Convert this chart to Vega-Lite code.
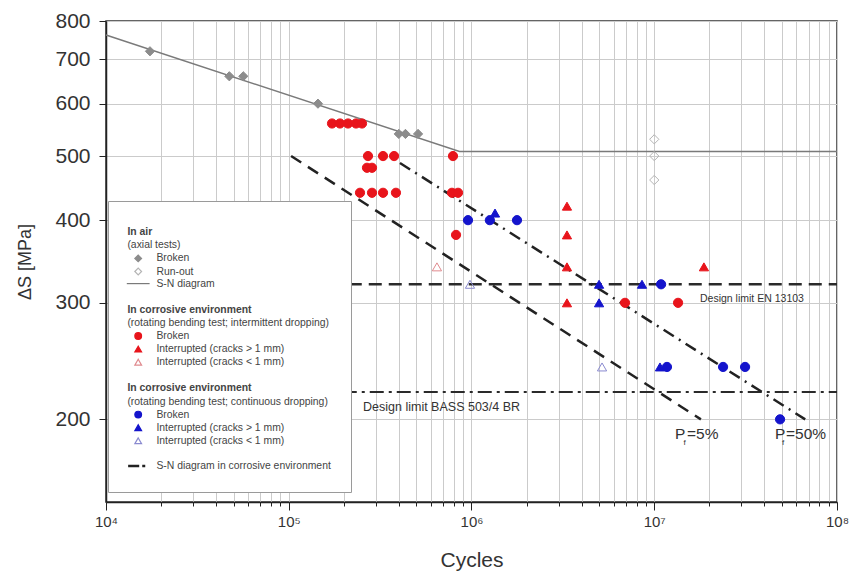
{
  "$schema": "https://vega.github.io/schema/vega-lite/v6.json",
  "width": 731,
  "height": 481,
  "autosize": "none",
  "padding": {"left": 106, "top": 21, "right": 13, "bottom": 71},
  "background": "white",
  "config": {
    "view": {"stroke": "#333333", "strokeWidth": 1.5},
    "font": "Liberation Sans",
    "legend": {
      "orient": "none", "legendX": 2, "legendY": 180, "zindex": 3,
      "titleFontSize": 1, "titlePadding": 5,
      "fillColor": "white", "strokeColor": "#9a9a9a", "padding": 20,
      "labelFont": "Liberation Sans", "labelFontSize": 10.4, "labelColor": "#444444", "labelLimit": 320,
      "symbolSize": 45, "symbolOffset": 5, "rowPadding": 1.1
    }
  },
  "datasets": {
    "pts": [
      {"N": 17400, "S": 720, "series": "03 Broken"},
      {"N": 47300, "S": 660, "series": "03 Broken"},
      {"N": 56400, "S": 660, "series": "03 Broken"},
      {"N": 144500, "S": 600, "series": "03 Broken"},
      {"N": 400000, "S": 540, "series": "03 Broken"},
      {"N": 435000, "S": 540, "series": "03 Broken"},
      {"N": 510000, "S": 540, "series": "03 Broken"},
      {"N": 10000000, "S": 530, "series": "04 Run-out"},
      {"N": 10000000, "S": 500, "series": "04 Run-out"},
      {"N": 10000000, "S": 460, "series": "04 Run-out"},
      {"N": 172500, "S": 560, "series": "09 Broken"},
      {"N": 190700, "S": 560, "series": "09 Broken"},
      {"N": 211000, "S": 560, "series": "09 Broken"},
      {"N": 233400, "S": 560, "series": "09 Broken"},
      {"N": 251700, "S": 560, "series": "09 Broken"},
      {"N": 271400, "S": 500, "series": "09 Broken"},
      {"N": 328000, "S": 500, "series": "09 Broken"},
      {"N": 377000, "S": 500, "series": "09 Broken"},
      {"N": 792000, "S": 500, "series": "09 Broken"},
      {"N": 268000, "S": 480, "series": "09 Broken"},
      {"N": 285500, "S": 480, "series": "09 Broken"},
      {"N": 245400, "S": 440, "series": "09 Broken"},
      {"N": 285500, "S": 440, "series": "09 Broken"},
      {"N": 328000, "S": 440, "series": "09 Broken"},
      {"N": 386000, "S": 440, "series": "09 Broken"},
      {"N": 782000, "S": 440, "series": "09 Broken"},
      {"N": 844000, "S": 440, "series": "09 Broken"},
      {"N": 823000, "S": 380, "series": "09 Broken"},
      {"N": 6920000, "S": 300, "series": "09 Broken"},
      {"N": 13500000, "S": 300, "series": "09 Broken"},
      {"N": 3330000, "S": 420, "series": "10 Interrupted (cracks > 1 mm)"},
      {"N": 3330000, "S": 380, "series": "10 Interrupted (cracks > 1 mm)"},
      {"N": 3330000, "S": 340, "series": "10 Interrupted (cracks > 1 mm)"},
      {"N": 3330000, "S": 300, "series": "10 Interrupted (cracks > 1 mm)"},
      {"N": 18700000, "S": 340, "series": "10 Interrupted (cracks > 1 mm)"},
      {"N": 647000, "S": 340, "series": "11 Interrupted (cracks < 1 mm)"},
      {"N": 957000, "S": 400, "series": "15 Broken"},
      {"N": 1260000, "S": 400, "series": "15 Broken"},
      {"N": 1774000, "S": 400, "series": "15 Broken"},
      {"N": 10900000, "S": 320, "series": "15 Broken"},
      {"N": 11740000, "S": 240, "series": "15 Broken"},
      {"N": 23800000, "S": 240, "series": "15 Broken"},
      {"N": 31400000, "S": 240, "series": "15 Broken"},
      {"N": 48800000, "S": 200, "series": "15 Broken"},
      {"N": 1345000, "S": 410, "series": "16 Interrupted (cracks > 1 mm)"},
      {"N": 4990000, "S": 320, "series": "16 Interrupted (cracks > 1 mm)"},
      {"N": 8570000, "S": 320, "series": "16 Interrupted (cracks > 1 mm)"},
      {"N": 4990000, "S": 300, "series": "16 Interrupted (cracks > 1 mm)"},
      {"N": 10750000, "S": 240, "series": "16 Interrupted (cracks > 1 mm)"},
      {"N": 981000, "S": 320, "series": "17 Interrupted (cracks < 1 mm)"},
      {"N": 5180000, "S": 240, "series": "17 Interrupted (cracks < 1 mm)"}
    ],
    "lines": [
      {"id": "sn", "N": 10000, "S": 762},
      {"id": "sn", "N": 860000, "S": 508},
      {"id": "sn", "N": 100000000, "S": 508},
      {"id": "en", "N": 100000, "S": 320},
      {"id": "en", "N": 100000000, "S": 320},
      {"id": "bass", "N": 100000, "S": 220},
      {"id": "bass", "N": 100000000, "S": 220},
      {"id": "p5", "N": 103000, "S": 500},
      {"id": "p5", "N": 18000000, "S": 200},
      {"id": "p50", "N": 406000, "S": 488},
      {"id": "p50", "N": 67000000, "S": 200}
    ],
    "notes": [
      {"N": 17800000, "S": 304, "txt": "Design limit EN 13103", "kind": "en"},
      {"N": 255000, "S": 209, "txt": "Design limit BASS 503/4 BR", "kind": "bass"},
      {"N": 13000000, "S": 187, "txt": "P", "kind": "p"},
      {"N": 14450000, "S": 183, "txt": "f", "kind": "sub"},
      {"N": 15100000, "S": 187, "txt": "=5%", "kind": "p"},
      {"N": 45800000, "S": 187, "txt": "P", "kind": "p"},
      {"N": 50000000, "S": 183, "txt": "f", "kind": "sub"},
      {"N": 52600000, "S": 187, "txt": "=50%", "kind": "p"}
    ]
  },
  "encoding": {
    "x": {
      "field": "N",
      "type": "quantitative",
      "scale": {"type": "log", "domain": [10000, 100000000]},
      "axis": {
        "title": "Cycles",
        "values": [10000, 20000, 30000, 40000, 50000, 60000, 70000, 80000, 90000, 100000, 200000, 300000, 400000, 500000, 600000, 700000, 800000, 900000, 1000000, 2000000, 3000000, 4000000, 5000000, 6000000, 7000000, 8000000, 9000000, 10000000, 20000000, 30000000, 40000000, 50000000, 60000000, 70000000, 80000000, 90000000, 100000000],
        "labelExpr": "indexof([10000,100000,1000000,10000000,100000000], datum.value) >= 0 ? '10' + ['⁴','⁵','⁶','⁷','⁸'][indexof([10000,100000,1000000,10000000,100000000], datum.value)] : ''",
        "grid": true,
        "gridColor": "#cbcbcb",
        "gridWidth": 1,
        "tickSize": {"condition": {"test": "indexof([10000,100000,1000000,10000000,100000000], datum.value) >= 0", "value": 8}, "value": 4},
        "tickColor": "#222222",
        "domainColor": "#222222",
        "domainWidth": 1.5,
        "labelFontSize": 15,
        "labelColor": "#333333",
        "labelPadding": 4,
        "labelFlush": false,
        "labelOverlap": false,
        "titleFontSize": 21,
        "titleFontWeight": "normal",
        "titleColor": "#333333",
        "titlePadding": 20
      }
    },
    "y": {
      "field": "S",
      "type": "quantitative",
      "scale": {"type": "log", "domain": [150, 800]},
      "axis": {
        "title": "ΔS [MPa]",
        "values": [200, 300, 400, 500, 600, 700, 800],
        "grid": true,
        "gridColor": "#cbcbcb",
        "gridWidth": 1,
        "tickSize": 7,
        "tickColor": "#222222",
        "domainColor": "#222222",
        "domainWidth": 1.5,
        "labelFontSize": 21,
        "labelColor": "#333333",
        "labelPadding": 9,
        "titleFontSize": 18,
        "titleFontWeight": "normal",
        "titleColor": "#333333",
        "titlePadding": 20
      }
    }
  },
  "layer": [
    {
      "data": {"name": "lines"},
      "transform": [{"filter": "datum.id == 'sn'"}],
      "mark": {"type": "line", "color": "#7a7a7a", "strokeWidth": 1.5},
      "encoding": {}
    },
    {
      "data": {"name": "lines"},
      "transform": [{"filter": "datum.id == 'en'"}],
      "mark": {"type": "line", "color": "#2a2a2a", "strokeWidth": 2.5, "strokeDash": [13, 7]},
      "encoding": {}
    },
    {
      "data": {"name": "lines"},
      "transform": [{"filter": "datum.id == 'bass'"}],
      "mark": {"type": "line", "color": "#2a2a2a", "strokeWidth": 2, "strokeDash": [14, 5, 3, 5]},
      "encoding": {}
    },
    {
      "data": {"name": "lines"},
      "transform": [{"filter": "datum.id == 'p5'"}],
      "mark": {"type": "line", "color": "#222222", "strokeWidth": 2.5, "strokeDash": [12, 8]},
      "encoding": {}
    },
    {
      "data": {"name": "lines"},
      "transform": [{"filter": "datum.id == 'p50'"}],
      "mark": {"type": "line", "color": "#222222", "strokeWidth": 2.5, "strokeDash": [12, 6, 2, 6]},
      "encoding": {}
    },
    {
      "data": {"name": "pts"},
      "mark": {"type": "point", "filled": true, "opacity": 1, "strokeWidth": 1, "size": 85},
      "encoding": {
        "shape": {
          "field": "series", "type": "nominal",
          "scale": {
            "domain": ["01 In air", "02 (axial tests)", "03 Broken", "04 Run-out", "05 S-N diagram", "06", "07 In corrosive environment", "08 (rotating bending test; intermittent dropping)", "09 Broken", "10 Interrupted (cracks > 1 mm)", "11 Interrupted (cracks < 1 mm)", "12", "13 In corrosive environment", "14 (rotating bending test; continuous dropping)", "15 Broken", "16 Interrupted (cracks > 1 mm)", "17 Interrupted (cracks < 1 mm)", "18", "19 S-N diagram in corrosive environment"],
            "range": ["circle", "circle", "diamond", "diamond", "M-3.4,0L3.4,0", "circle", "circle", "circle", "circle", "triangle-up", "triangle-up", "circle", "circle", "circle", "circle", "triangle-up", "triangle-up", "circle", "M-3,0L0.3,0M1.2,0L2.1,0"]
          },
          "legend": {
            "title": " ",
            "labelExpr": "substring(datum.label, 3)",
            "labelFontWeight": {"expr": "indexof(['01','07','13'], substring(datum.value,0,2)) >= 0 ? 'bold' : 'normal'"},
            "labelOffset": {"expr": "indexof(['01','02','07','08','13','14'], substring(datum.value,0,2)) >= 0 ? -16 : 13"},
            "symbolStrokeWidth": {"expr": "substring(datum.value,0,2) == '19' ? 2.5 : 1.2"}
          }
        },
        "fill": {
          "field": "series", "type": "nominal",
          "scale": {
            "domain": ["01 In air", "02 (axial tests)", "03 Broken", "04 Run-out", "05 S-N diagram", "06", "07 In corrosive environment", "08 (rotating bending test; intermittent dropping)", "09 Broken", "10 Interrupted (cracks > 1 mm)", "11 Interrupted (cracks < 1 mm)", "12", "13 In corrosive environment", "14 (rotating bending test; continuous dropping)", "15 Broken", "16 Interrupted (cracks > 1 mm)", "17 Interrupted (cracks < 1 mm)", "18", "19 S-N diagram in corrosive environment"],
            "range": ["transparent", "transparent", "#8c8c8c", "transparent", "transparent", "transparent", "transparent", "transparent", "#e8141b", "#e8141b", "transparent", "transparent", "transparent", "transparent", "#1414cc", "#1414cc", "transparent", "transparent", "transparent"]
          },
          "legend": {
            "title": " ",
            "labelExpr": "substring(datum.label, 3)",
            "labelFontWeight": {"expr": "indexof(['01','07','13'], substring(datum.value,0,2)) >= 0 ? 'bold' : 'normal'"},
            "labelOffset": {"expr": "indexof(['01','02','07','08','13','14'], substring(datum.value,0,2)) >= 0 ? -16 : 13"},
            "symbolStrokeWidth": {"expr": "substring(datum.value,0,2) == '19' ? 2.5 : 1.2"}
          }
        },
        "stroke": {
          "field": "series", "type": "nominal",
          "scale": {
            "domain": ["01 In air", "02 (axial tests)", "03 Broken", "04 Run-out", "05 S-N diagram", "06", "07 In corrosive environment", "08 (rotating bending test; intermittent dropping)", "09 Broken", "10 Interrupted (cracks > 1 mm)", "11 Interrupted (cracks < 1 mm)", "12", "13 In corrosive environment", "14 (rotating bending test; continuous dropping)", "15 Broken", "16 Interrupted (cracks > 1 mm)", "17 Interrupted (cracks < 1 mm)", "18", "19 S-N diagram in corrosive environment"],
            "range": ["transparent", "transparent", "#8c8c8c", "#b5b5b5", "#7a7a7a", "transparent", "transparent", "transparent", "#e8141b", "#e8141b", "#e08a8e", "transparent", "transparent", "transparent", "#1414cc", "#1414cc", "#8a8ad0", "transparent", "#222222"]
          },
          "legend": {
            "title": " ",
            "labelExpr": "substring(datum.label, 3)",
            "labelFontWeight": {"expr": "indexof(['01','07','13'], substring(datum.value,0,2)) >= 0 ? 'bold' : 'normal'"},
            "labelOffset": {"expr": "indexof(['01','02','07','08','13','14'], substring(datum.value,0,2)) >= 0 ? -16 : 13"},
            "symbolStrokeWidth": {"expr": "substring(datum.value,0,2) == '19' ? 2.5 : 1.2"}
          }
        }
      }
    },
    {
      "data": {"name": "notes"},
      "transform": [{"filter": "datum.kind == 'en'"}],
      "mark": {"type": "text", "align": "left", "baseline": "middle", "fontSize": 10.5, "color": "#333333", "font": "Liberation Sans"},
      "encoding": {"text": {"field": "txt"}}
    },
    {
      "data": {"name": "notes"},
      "transform": [{"filter": "datum.kind == 'bass'"}],
      "mark": {"type": "text", "align": "left", "baseline": "middle", "fontSize": 12.5, "color": "#333333", "font": "Liberation Sans"},
      "encoding": {"text": {"field": "txt"}}
    },
    {
      "data": {"name": "notes"},
      "transform": [{"filter": "datum.kind == 'p'"}],
      "mark": {"type": "text", "align": "left", "baseline": "alphabetic", "fontSize": 15.5, "color": "#333333", "font": "Liberation Sans"},
      "encoding": {"text": {"field": "txt"}}
    },
    {
      "data": {"name": "notes"},
      "transform": [{"filter": "datum.kind == 'sub'"}],
      "mark": {"type": "text", "align": "left", "baseline": "alphabetic", "fontSize": 8, "color": "#333333", "font": "Liberation Sans"},
      "encoding": {"text": {"field": "txt"}}
    }
  ]
}
